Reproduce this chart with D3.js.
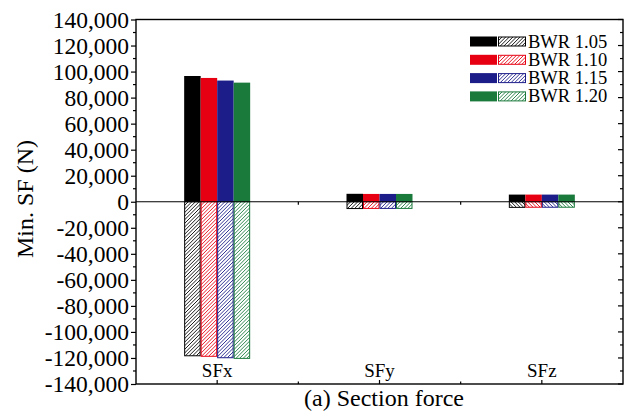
<!DOCTYPE html>
<html lang="en">
<head>
  <meta charset="UTF-8" />
  <title>Section force</title>
  <script src="https://d3js.org/d3.v7.min.js"></script>
  <style>
    body {
      margin: 0;
      padding: 0;
      background: #fff;
    }
    svg {
      display: block;
      font-family: "Liberation Serif", "Times New Roman", serif;
    }
  </style>
</head>
<body>
  <svg width="626" height="417"></svg>

  <script>
    const categories = ["SFx", "SFy", "SFz"];
    const series = ["BWR 1.05", "BWR 1.10", "BWR 1.15", "BWR 1.20"];
    const colors = ["#000000", "#e60012", "#1d1d8a", "#1a7a3c"];

    // max (positive) and min (negative) section force per series, by category
    const maxSF = [
      [96600, 6100, 5500],
      [95100, 6000, 5500],
      [93100, 6000, 5500],
      [91500, 6000, 5500]
    ];
    const minSF = [
      [-118700, -5600, -4700],
      [-119100, -5500, -4600],
      [-120200, -5500, -4600],
      [-120700, -5500, -4600]
    ];

    const yTicks = d3.range(-140000, 140001, 20000);

    const svg = d3.select("svg");
    const plotL = 136, plotR = 623, plotT = 19.5, plotB = 384;

    const x0 = d3.scaleBand().domain(categories).range([plotL, plotR]).padding(0);
    const groupW = 66;
    const x1 = d3.scaleBand().domain(series).range([-groupW / 2, groupW / 2]).padding(0);
    const y = d3.scaleLinear().domain([-140000, 140000]).range([plotB, plotT]);

    const fmt = d3.formatLocale({ decimal: ".", thousands: ",", grouping: [3], currency: ["", ""], minus: "-" }).format(",");

    // hatched rectangle drawn with clipped diagonal lines
    let clipId = 0;
    function hatchRect(parent, x, y0, w, h, color, back) {
      const id = "clip" + (clipId++);
      parent.append("clipPath").attr("id", id)
        .append("rect").attr("x", x).attr("y", y0).attr("width", w).attr("height", h);
      const g = parent.append("g").attr("clip-path", `url(#${id})`);
      g.append("rect").attr("x", x).attr("y", y0).attr("width", w).attr("height", h).attr("fill", "#fff");
      const step = 3.6;
      for (let t = -h - step; t < w + step; t += step) {
        g.append("line")
          .attr("x1", x + t).attr("x2", x + t + h)
          .attr("y1", back ? y0 : y0 + h).attr("y2", back ? y0 + h : y0)
          .attr("stroke", color).attr("stroke-width", 0.9);
      }
      parent.append("rect").attr("x", x).attr("y", y0).attr("width", w).attr("height", h)
        .attr("fill", "none").attr("stroke", color).attr("stroke-width", 1);
    }

    // bars
    series.forEach((s, i) => {
      const g = svg.append("g");
      g.selectAll("rect.pos")
        .data(categories)
        .enter().append("rect")
        .attr("class", "pos")
        .attr("x", c => x0(c) + x0.bandwidth() / 2 + x1(s))
        .attr("width", x1.bandwidth())
        .attr("y", (c, j) => y(maxSF[i][j]))
        .attr("height", (c, j) => y(0) - y(maxSF[i][j]))
        .attr("fill", colors[i]);

      categories.forEach((c, j) => {
        hatchRect(g,
          x0(c) + x0.bandwidth() / 2 + x1(s) + 0.5,
          y(0),
          x1.bandwidth() - 1,
          y(minSF[i][j]) - y(0) - 0.5,
          colors[i],
          c === "SFz");
      });
    });

    // zero line
    svg.append("line")
      .attr("x1", plotL).attr("x2", plotR)
      .attr("y1", y(0)).attr("y2", y(0))
      .attr("stroke", "#000").attr("stroke-width", 1.2);
    categories.slice(1).forEach(c => {
      svg.append("line")
        .attr("x1", x0(c)).attr("x2", x0(c))
        .attr("y1", y(0)).attr("y2", y(0) + 3)
        .attr("stroke", "#000").attr("stroke-width", 1.2);
    });

    // frame
    svg.append("rect")
      .attr("x", plotL).attr("y", plotT)
      .attr("width", plotR - plotL).attr("height", plotB - plotT)
      .attr("fill", "none").attr("stroke", "#000").attr("stroke-width", 1.4);

    // left axis
    const yAxis = d3.axisLeft(y)
      .tickValues(yTicks)
      .tickFormat(fmt)
      .tickSize(5)
      .tickPadding(2);
    const ga = svg.append("g").attr("transform", `translate(${plotL},0)`).call(yAxis);
    ga.select(".domain").remove();
    ga.selectAll(".tick line").attr("stroke-width", 1.2);
    ga.selectAll(".tick text")
      .attr("font-size", 23.5)
      .attr("font-family", "Liberation Serif")
      .attr("fill", "#000");

    const minorY = d3.range(-130000, 140000, 20000);
    svg.append("g").selectAll("line")
      .data(minorY).enter().append("line")
      .attr("x1", plotL - 3).attr("x2", plotL)
      .attr("y1", d => y(d)).attr("y2", d => y(d))
      .attr("stroke", "#000").attr("stroke-width", 1.2);

    // right axis ticks (inward)
    svg.append("g").selectAll("line")
      .data(yTicks).enter().append("line")
      .attr("x1", plotR - 5).attr("x2", plotR)
      .attr("y1", d => y(d)).attr("y2", d => y(d))
      .attr("stroke", "#000").attr("stroke-width", 1.2);
    svg.append("g").selectAll("line")
      .data(minorY).enter().append("line")
      .attr("x1", plotR - 3).attr("x2", plotR)
      .attr("y1", d => y(d)).attr("y2", d => y(d))
      .attr("stroke", "#000").attr("stroke-width", 1.2);

    // bottom axis
    const xAxis = d3.axisBottom(x0).tickSizeInner(-4).tickSizeOuter(0);
    const gx = svg.append("g").attr("transform", `translate(0,${plotB})`).call(xAxis);
    gx.select(".domain").remove();
    gx.selectAll(".tick line").attr("stroke-width", 1.2);
    gx.selectAll(".tick text")
      .attr("font-size", 19)
      .attr("font-family", "Liberation Serif")
      .attr("fill", "#000")
      .attr("dy", null)
      .attr("y", -7);
    categories.slice(1).forEach(c => {
      svg.append("line")
        .attr("x1", x0(c)).attr("x2", x0(c))
        .attr("y1", plotB).attr("y2", plotB - 2.5)
        .attr("stroke", "#000").attr("stroke-width", 1.2);
    });

    // axis titles
    svg.append("text")
      .attr("transform", `translate(33,199) rotate(-90)`)
      .attr("text-anchor", "middle")
      .attr("font-size", 24)
      .text("Min. SF (N)");

    svg.append("text")
      .attr("x", 384)
      .attr("y", 406)
      .attr("text-anchor", "middle")
      .attr("font-size", 24)
      .text("(a) Section force");

    // legend
    const legend = svg.append("g");
    series.forEach((s, i) => {
      const ly = 36.5 + i * 18.3;
      legend.append("rect")
        .attr("x", 470).attr("y", ly)
        .attr("width", 27).attr("height", 10)
        .attr("fill", colors[i]);
      hatchRect(legend, 498.5, ly + 0.5, 27, 9, colors[i], false);
      legend.append("text")
        .attr("x", 528)
        .attr("y", ly + 11)
        .attr("font-size", 18.5)
        .text(s);
    });
  </script>
</body>
</html>
